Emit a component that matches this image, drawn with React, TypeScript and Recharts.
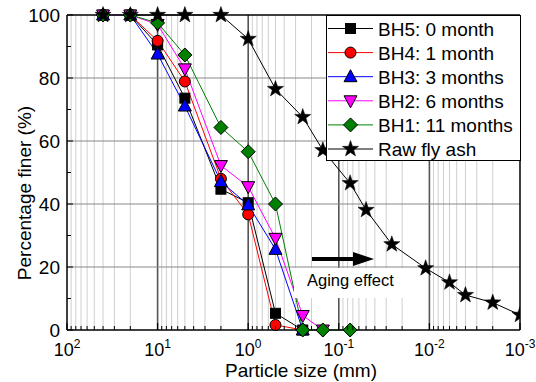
import { LineChart, Line, XAxis, YAxis, CartesianGrid } from 'recharts'

// sieve openings (mm) used for the bottom-ash samples
const sieveSizes = [40, 20, 10, 5, 2, 1, 0.5, 0.25, 0.15, 0.075]

// percentage finer for each borehole sample
const bh5 = [100, 100, 90.5, 73.6, 44.7, 40.4, 5.3, 0]
const bh4 = [100, 100, 91.8, 78.9, 48, 36.7, 1.6, 0]
const bh3 = [100, 100, 87.6, 71.1, 47.1, 39.7, 25.6, 0]
const bh2 = [100, 100, 97, 82.9, 52.2, 45.5, 29.1, 4.6, 0]
const bh1 = [100, 100, 97.5, 87.3, 64.3, 56.6, 40, 0, 0, 0]

// raw fly ash: sieve + hydrometer
const rawSizes = [40, 20, 10, 5, 2, 1, 0.5, 0.25, 0.15, 0.075, 0.05, 0.026, 0.011, 0.006, 0.004, 0.002, 0.001]
const rawAsh = [100, 100, 100, 100, 100, 92.4, 76.5, 67.6, 57.1, 46.6, 38.1, 27.2, 19.6, 15.1, 11.1, 8.7, 4.8]

const decades = [100, 10, 1, 0.1, 0.01, 0.001]
const decadeLabels = ['2', '1', '0', '-1', '-2', '-3']
const minorTicks = [10, 1, 0.1, 0.01, 0.001].flatMap((base) =>
  [2, 3, 4, 5, 6, 7, 8, 9].map((m) => +(base * m).toPrecision(3))
)
const yTicks = [0, 10, 20, 30, 40, 50, 60, 70, 80, 90, 100]
const yLabels = [0, 20, 40, 60, 80, 100]

const FONT = '"Liberation Sans", Arial, sans-serif'

const toPoints = (sizes: number[], values: number[]) =>
  values.map((v, i) => ({ d: sizes[i], v }))

type Kind = 'square' | 'circle' | 'up' | 'down' | 'diamond' | 'star'

function Marker({ kind, cx, cy, fill }: { kind: Kind; cx: number; cy: number; fill: string }) {
  if (cx == null || cy == null) return null
  const sw = 1
  switch (kind) {
    case 'square':
      return <rect x={cx - 5} y={cy - 5} width={10} height={10} fill={fill} stroke="#000" strokeWidth={sw} />
    case 'circle':
      return <circle cx={cx} cy={cy} r={5.5} fill={fill} stroke="#000" strokeWidth={sw} />
    case 'up':
      return (
        <polygon
          points={`${cx},${cy - 7} ${cx + 6.5},${cy + 5} ${cx - 6.5},${cy + 5}`}
          fill={fill}
          stroke="#000"
          strokeWidth={sw}
        />
      )
    case 'down':
      return (
        <polygon
          points={`${cx},${cy + 7} ${cx + 6.5},${cy - 5} ${cx - 6.5},${cy - 5}`}
          fill={fill}
          stroke="#000"
          strokeWidth={sw}
        />
      )
    case 'diamond':
      return (
        <polygon
          points={`${cx},${cy - 7} ${cx + 7},${cy} ${cx},${cy + 7} ${cx - 7},${cy}`}
          fill={fill}
          stroke="#000"
          strokeWidth={sw}
        />
      )
    case 'star': {
      const pts: string[] = []
      for (let i = 0; i < 10; i++) {
        const r = i % 2 === 0 ? 8.5 : 3.4
        const a = -Math.PI / 2 + (i * Math.PI) / 5
        pts.push(`${cx + r * Math.cos(a)},${cy + r * Math.sin(a)}`)
      }
      return <polygon points={pts.join(' ')} fill="#000" stroke="#000" strokeWidth={0.5} />
    }
  }
  return null
}

const series = [
  { name: 'BH5: 0 month', data: toPoints(sieveSizes, bh5), color: '#000000', fill: '#000000', kind: 'square' as Kind },
  { name: 'BH4: 1 month', data: toPoints(sieveSizes, bh4), color: '#ff0000', fill: '#ff0000', kind: 'circle' as Kind },
  { name: 'BH3: 3 months', data: toPoints(sieveSizes, bh3), color: '#0000ff', fill: '#0000ff', kind: 'up' as Kind },
  { name: 'BH2: 6 months', data: toPoints(sieveSizes, bh2), color: '#ff00ff', fill: '#ff00ff', kind: 'down' as Kind },
  { name: 'BH1: 11 months', data: toPoints(sieveSizes, bh1), color: '#008000', fill: '#008000', kind: 'diamond' as Kind },
  { name: 'Raw fly ash', data: toPoints(rawSizes, rawAsh), color: '#000000', fill: '#000000', kind: 'star' as Kind },
]

function XTick(props: any) {
  const { x, y, payload } = props
  const idx = decades.indexOf(payload.value)
  if (idx < 0) {
    return <line x1={x} y1={y} x2={x} y2={y - 4} stroke="#000" strokeWidth={1} />
  }
  return (
    <g>
      <line x1={x} y1={y} x2={x} y2={y - 7} stroke="#000" strokeWidth={1.2} />
      <text x={x} y={y + 26} textAnchor="middle" fontSize={18} fontFamily={FONT} fill="#000">
        <tspan>10</tspan>
        <tspan dy={-8} fontSize={12}>{decadeLabels[idx]}</tspan>
      </text>
    </g>
  )
}

function YTickLeft(props: any) {
  const { x, y, payload } = props
  const major = yLabels.includes(payload.value)
  return (
    <g>
      <line x1={x} y1={y} x2={x + (major ? 6 : 4)} y2={y} stroke="#000" strokeWidth={1} />
      {major && (
        <text x={x - 7} y={y + 6.5} textAnchor="end" fontSize={19} fontFamily={FONT} fill="#000">
          {payload.value}
        </text>
      )}
    </g>
  )
}

function YTickRight(props: any) {
  const { x, y, payload } = props
  const major = yLabels.includes(payload.value)
  return <line x1={x} y1={y} x2={x - (major ? 6 : 4)} y2={y} stroke="#000" strokeWidth={1} />
}

function Overlay() {
  const rowY = (i: number) => 28.5 + i * 24.1
  return (
    <svg width={536} height={382} style={{ position: 'absolute', left: 0, top: 0, pointerEvents: 'none' }}>
      {/* legend */}
      <rect x={326.5} y={15.5} width={194} height={145} fill="#fff" stroke="#000" strokeWidth={1} />
      {series.map((s, i) => (
        <g key={s.name}>
          <line x1={328} y1={rowY(i)} x2={373} y2={rowY(i)} stroke={s.color} strokeWidth={1} />
          <Marker kind={s.kind} cx={350.5} cy={rowY(i)} fill={s.fill} />
          <text x={378} y={rowY(i) + 7} fontSize={19} fontFamily={FONT} fill="#000">
            {s.name}
          </text>
        </g>
      ))}
      {/* aging annotation */}
      <rect x={294} y={268} width={114} height={30} fill="#fff" />
      <line x1={312} y1={259} x2={356} y2={259} stroke="#000" strokeWidth={4} />
      <polygon points="353,252 374,259 353,266" fill="#000" />
      <text x={307} y={286} fontSize={16.5} fontFamily={FONT} fill="#000">
        Aging effect
      </text>
      {/* axis titles */}
      <text x={301} y={376.5} textAnchor="middle" fontSize={19} fontFamily={FONT} fill="#000">
        Particle size (mm)
      </text>
      <text
        transform="translate(31,193) rotate(-90)"
        textAnchor="middle"
        fontSize={19}
        fontFamily={FONT}
        fill="#000"
      >
        Percentage finer (%)
      </text>
    </svg>
  )
}

export default function App() {
  return (
    <div style={{ position: 'absolute', left: 0, top: 0, width: 536, height: 382, background: '#fff' }}>
      <LineChart width={536} height={382} margin={{ top: 15, right: 0, bottom: 0, left: 0 }}>
        <CartesianGrid
          yAxisId="l"
          horizontal={false}
          verticalValues={minorTicks}
          stroke="#cfcfcf"
          strokeWidth={1}
        />
        <CartesianGrid
          yAxisId="l"
          horizontal={false}
          verticalValues={[10, 1, 0.1, 0.01]}
          stroke="#555"
          strokeWidth={1.6}
        />
        <CartesianGrid
          yAxisId="l"
          vertical={false}
          horizontalValues={[20, 40, 60, 80]}
          stroke="#888"
          strokeWidth={1}
        />
        {/* top frame line */}
        <CartesianGrid
          yAxisId="l"
          vertical={false}
          horizontalValues={[100]}
          stroke="#000"
          strokeWidth={1.5}
        />
        <XAxis
          dataKey="d"
          type="number"
          scale="log"
          domain={[0.001, 100]}
          reversed
          allowDataOverflow
          ticks={[...decades, ...minorTicks]}
          interval={0}
          tick={<XTick />}
          tickLine={false}
          tickSize={0}
          tickMargin={0}
          height={52}
          axisLine={{ stroke: '#000', strokeWidth: 1.5 }}
        />
        <YAxis
          yAxisId="l"
          type="number"
          domain={[0, 100]}
          ticks={yTicks}
          interval={0}
          tick={<YTickLeft />}
          tickLine={false}
          tickSize={0}
          tickMargin={0}
          width={67}
          axisLine={{ stroke: '#000', strokeWidth: 1.5 }}
        />
        <YAxis
          yAxisId="r"
          orientation="right"
          type="number"
          domain={[0, 100]}
          ticks={yTicks}
          interval={0}
          tick={<YTickRight />}
          tickLine={false}
          tickSize={0}
          tickMargin={0}
          width={16}
          axisLine={{ stroke: '#000', strokeWidth: 1.5 }}
        />
        {series.map((s) => (
          <Line
            key={s.name}
            yAxisId="l"
            data={s.data}
            dataKey="v"
            name={s.name}
            type="linear"
            stroke={s.color}
            strokeWidth={1}
            isAnimationActive={false}
            activeDot={false}
            dot={(p: any) => <Marker key={`${s.name}-${p.index}`} kind={s.kind} cx={p.cx} cy={p.cy} fill={s.fill} />}
          />
        ))}
      </LineChart>
      <Overlay />
    </div>
  )
}
